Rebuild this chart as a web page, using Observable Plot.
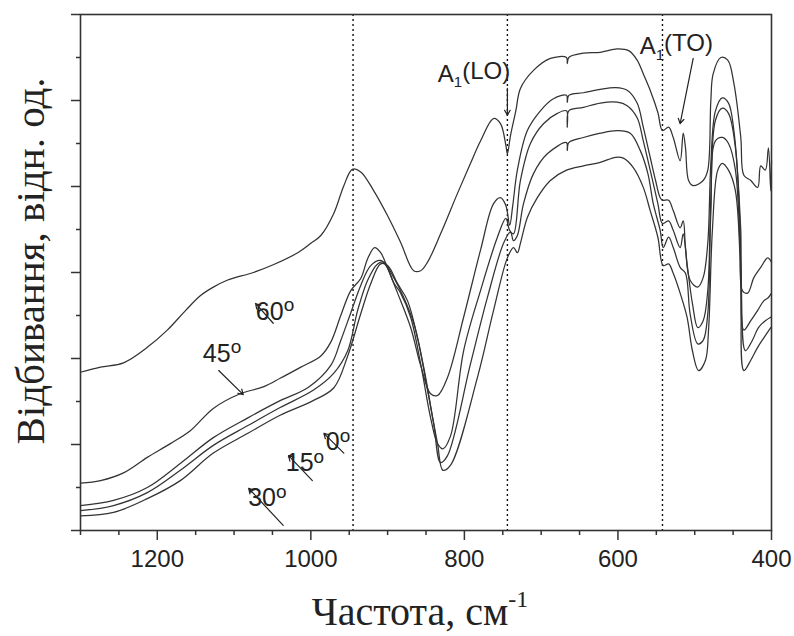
<!DOCTYPE html>
<html><head><meta charset="utf-8">
<script src="https://cdn.jsdelivr.net/npm/d3@7"></script>
<script src="https://cdn.jsdelivr.net/npm/@observablehq/plot@0.6"></script>
<style>body{margin:0;background:#fff} #chart svg{display:block}</style>
</head><body><div id="chart"></div>
<script>
// 60° curve
const freqA = [1300,1274,1244,1213,1187,1163,1144,1127,1109,1075,1049,1017,1000,987,970,957,946,935,918,900,883,866,857,848,831,809,792,779,762,753,746,744,740,733,727,710,688,667,666,664,645,623,601,586,575,567,558,548,542,534,528,519,515,512,508,502,489,483,479,476,466,457,449,440,436,427,418,414,408,404,401,400];
const valA = [1.84,1.90,1.95,2.13,2.33,2.56,2.73,2.83,2.91,3.00,3.09,3.23,3.34,3.43,3.69,4.01,4.20,4.17,3.95,3.66,3.35,3.02,3.02,3.12,3.45,3.92,4.27,4.53,4.79,4.73,4.48,4.38,4.59,4.88,5.14,5.35,5.49,5.50,5.43,5.50,5.55,5.56,5.60,5.58,5.47,5.31,5.12,4.86,4.65,4.69,4.57,4.30,4.62,4.45,4.07,4.01,4.07,4.19,5.00,5.31,5.50,5.47,5.20,4.57,4.13,4.07,3.99,4.24,4.19,4.45,3.95,4.30];
// 45° curve
const freqB = [1300,1274,1244,1213,1183,1157,1127,1092,1062,1040,1013,987,974,961,948,935,926,917,909,900,887,870,857,844,835,822,801,779,762,753,746,741,737,731,718,701,684,667,666,664,645,623,603,588,575,567,558,551,545,542,534,528,519,515,512,506,496,489,483,479,473,464,456,449,440,438,431,423,414,405,400];
const valB = [0.55,0.58,0.67,0.85,1.01,1.16,1.42,1.59,1.67,1.77,1.90,2.03,2.19,2.50,2.79,2.93,3.16,3.29,3.23,3.05,2.76,2.36,1.92,1.59,1.57,1.78,2.48,3.26,3.80,3.87,3.78,3.55,3.78,4.19,4.65,4.88,5.02,5.06,4.98,5.06,5.09,5.13,5.15,5.12,4.97,4.69,4.34,4.07,3.87,3.84,3.84,3.72,3.52,3.60,3.29,2.91,2.83,2.94,3.34,4.27,4.88,5.03,4.97,4.65,3.49,2.79,2.76,2.94,3.06,3.17,3.12];
// lower curves
const freqC = [1300,1257,1213,1170,1127,1082,1040,1004,974,961,948,935,922,909,900,892,883,870,857,844,835,828,818,801,779,757,746,741,736,727,714,697,679,667,666,664,645,623,601,588,575,567,558,548,542,534,528,519,515,510,503,496,489,483,479,473,464,456,447,440,436,427,418,410,404,400];
const valC = [0.29,0.35,0.50,0.78,1.08,1.31,1.51,1.66,1.92,2.21,2.53,2.85,3.08,3.14,3.05,2.88,2.76,2.48,1.94,1.31,1.01,0.95,1.10,2.09,2.79,3.41,3.63,3.49,3.45,4.07,4.50,4.73,4.85,4.88,4.69,4.88,4.92,4.97,4.98,4.94,4.80,4.53,4.19,3.80,3.57,3.60,3.49,3.29,3.45,3.10,2.64,2.36,2.44,2.79,3.87,4.77,4.91,4.85,4.45,3.29,2.33,2.44,2.56,2.67,2.71,2.76];
const freqD = [1300,1257,1213,1170,1127,1082,1040,997,970,952,939,926,913,905,892,879,866,853,840,831,822,792,770,749,740,736,731,723,710,692,667,666,664,645,623,601,584,571,561,554,545,541,534,528,519,512,506,496,489,483,479,473,464,456,447,440,434,425,417,408,401];
const valD = [0.23,0.29,0.44,0.70,0.99,1.22,1.43,1.63,1.83,2.09,2.56,2.91,3.10,3.12,2.94,2.71,2.41,1.90,1.24,0.79,0.87,1.94,2.71,3.34,3.47,3.37,3.43,3.80,4.15,4.38,4.51,4.42,4.51,4.57,4.62,4.65,4.62,4.42,4.15,3.80,3.49,3.29,3.41,3.29,3.06,2.99,2.52,2.17,2.21,2.52,3.69,4.53,4.57,4.50,4.19,3.10,2.09,2.21,2.36,2.44,2.48];
const freqE = [1300,1257,1213,1170,1127,1082,1040,997,970,952,935,922,909,900,887,874,861,848,835,828,818,783,762,744,736,731,727,718,705,688,667,645,623,603,593,580,567,558,548,541,534,528,519,510,503,495,486,482,477,470,464,456,447,440,436,427,418,410,401];
const valE = [0.17,0.21,0.37,0.58,0.90,1.13,1.34,1.51,1.66,2.03,2.52,2.87,3.10,3.08,2.87,2.67,2.24,1.63,1.01,0.70,0.76,1.78,2.56,3.17,3.29,3.23,3.34,3.64,3.87,4.07,4.19,4.24,4.28,4.34,4.33,4.22,3.99,3.72,3.41,3.08,3.10,2.99,2.76,2.48,2.09,1.86,1.98,2.33,3.49,4.19,4.27,4.19,3.95,2.91,1.86,1.98,2.13,2.24,2.36];

const seriesNames = ["A","B","C","D","E"];
const seriesF = [freqA, freqB, freqC, freqD, freqE];
const seriesV = [valA, valB, valC, valD, valE];

// axis ticks
const majorX = [1200,1000,800,600,400];
const minorX = [1300,1250,1150,1100,1050,950,900,850,750,700,650,550,500,450];
const majorY = [0,1,2,3,4,5,6];
const minorY = [0.5,1.5,2.5,3.5,4.5,5.5];
const markerFreqs = [945,744,542];

// annotations
const angleText = ["60","45","30","15","0"];
const angleF = [1046,1115,1056,1007,964];
const angleV = [2.55,2.06,0.38,0.79,1.03];
const arrowF1 = [1049,1120,1036,998,957,744,502];
const arrowV1 = [2.41,1.86,0.06,0.58,0.90,5.14,5.49];
const arrowF2 = [1072,1088,1081,1029,983,744,519];
const arrowV2 = [2.64,1.58,0.49,0.87,1.13,4.83,4.73];
const modeText = ["LO","TO"];
const modeF = [834,571];
const modeV = [5.31,5.63];

const rows = seriesNames.flatMap((n, k) => seriesF[k].map((f, i) => ({series: n, f, v: seriesV[k][i]})));
const arrows = arrowF1.map((f, i) => ({f1: f, v1: arrowV1[i], f2: arrowF2[i], v2: arrowV2[i]}));

const chart = Plot.plot({
  width: 794, height: 636,
  marginLeft: 80, marginRight: 23, marginTop: 14, marginBottom: 106,
  style: {background: "#fff", color: "#222", fontFamily: "'Liberation Sans', Arial, sans-serif"},
  x: {domain: [1300, 400]},
  y: {domain: [0, 6]},
  marks: [
    Plot.ruleX(markerFreqs, {stroke: "#111", strokeWidth: 1.4, strokeDasharray: "2,3"}),
    Plot.line(rows, {x: "f", y: "v", z: "series", stroke: "#333", strokeWidth: 1.25, curve: "catmull-rom"}),
    Plot.arrow(arrows, {x1: "f1", y1: "v1", x2: "f2", y2: "v2", stroke: "#222", strokeWidth: 1.2, headLength: 7}),
    Plot.axisX({ticks: majorX, tickSize: 10, tickPadding: 9, fontSize: 24, tickFormat: d => String(d), label: null, stroke: "#333", strokeWidth: 1.5}),
    Plot.axisX({ticks: minorX, tickSize: 5, tickFormat: () => "", label: null, stroke: "#333", strokeWidth: 1.5}),
    Plot.axisY({ticks: majorY, tickSize: 9, tickFormat: () => "", label: null, stroke: "#333", strokeWidth: 1.5}),
    Plot.axisY({ticks: minorY, tickSize: 4, tickFormat: () => "", label: null, stroke: "#333", strokeWidth: 1.5}),
    Plot.frame({stroke: "#333", strokeWidth: 1.6})
  ]
});
document.getElementById("chart").append(chart);

const sx = chart.scale("x"), sy = chart.scale("y");
const svg = d3.select(chart);
const ann = svg.append("g").attr("fill", "#222").attr("font-family", "'Liberation Sans', Arial, sans-serif").attr("font-size", 25);
angleText.forEach((t, i) => {
  const tx = ann.append("text").attr("x", sx.apply(angleF[i])).attr("y", sy.apply(angleV[i])).attr("dy", "0.36em").attr("text-anchor", "middle");
  tx.append("tspan").text(t);
  tx.append("tspan").attr("dy", "-0.45em").attr("font-size", 19).text("o");
});
modeText.forEach((t, i) => {
  const tx = ann.append("text").attr("x", sx.apply(modeF[i])).attr("y", sy.apply(modeV[i])).attr("dy", "0.36em").attr("text-anchor", "start").attr("font-size", 24);
  tx.append("tspan").text("A");
  tx.append("tspan").attr("dy", "0.35em").attr("font-size", 15).text("1");
  tx.append("tspan").attr("dy", "-0.35em").text("(" + t + ")");
});
// axis titles
const xt = svg.append("text").attr("x", 420).attr("y", 625).attr("text-anchor", "middle")
  .attr("font-family", "'Liberation Serif', 'Times New Roman', serif").attr("font-size", 40).attr("fill", "#222");
xt.append("tspan").text("Частота, см");
xt.append("tspan").attr("dy", "-0.75em").attr("font-size", 24).text("-1");
svg.append("text").attr("transform", "translate(44,261) rotate(-90)").attr("text-anchor", "middle")
  .attr("font-family", "'Liberation Serif', 'Times New Roman', serif").attr("font-size", 41).attr("fill", "#222")
  .text("Відбивання, відн. од.");
</script>
</body></html>
